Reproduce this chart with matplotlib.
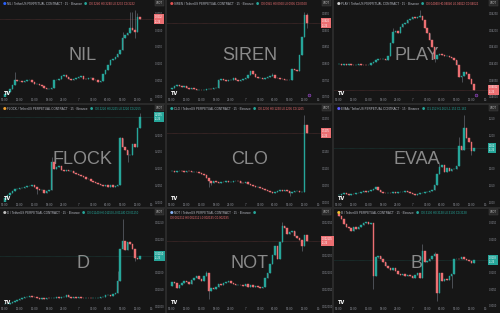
import matplotlib
matplotlib.use('Agg')
import matplotlib.pyplot as plt
import matplotlib.transforms as mtransforms
from matplotlib.ticker import MaxNLocator, FuncFormatter
import numpy as np

W, H = 500, 313

nil_close = [0.3010, 0.3015, 0.3025, 0.3035, 0.3050, 0.3047, 0.3048, 0.3045, 0.3047, 0.3050,
             0.3052, 0.3045, 0.3040, 0.3040, 0.3035, 0.3032, 0.3028, 0.3025, 0.3025, 0.3028,
             0.3050, 0.3052, 0.3055, 0.3062, 0.3065, 0.3060, 0.3055, 0.3052, 0.3055, 0.3058,
             0.3060, 0.3062, 0.3055, 0.3053, 0.3057, 0.3058, 0.3052, 0.3050, 0.3045, 0.3048,
             0.3068, 0.3080, 0.3095, 0.3110, 0.3115, 0.3120, 0.3130, 0.3140, 0.3175, 0.3185,
             0.3190, 0.3205, 0.3200, 0.3195, 0.3240, 0.3232]
nil_open0 = 0.3000
nil_high = {4: 0.3075, 48: 0.3195, 51: 0.3255, 52: 0.3255, 53: 0.3260, 54: 0.3250}
nil_low = {53: 0.3175}

siren_close = [0.0728, 0.0732, 0.0735, 0.0732, 0.0730, 0.0732, 0.0728, 0.0725, 0.0728, 0.0725,
               0.0722, 0.0722, 0.0720, 0.0722, 0.0724, 0.0725, 0.0724, 0.0727, 0.0728, 0.0752,
               0.0753, 0.0750, 0.0748, 0.0750, 0.0752, 0.0758, 0.0750, 0.0748, 0.0752, 0.0755,
               0.0758, 0.0765, 0.0778, 0.0768, 0.0760, 0.0757, 0.0758, 0.0755, 0.0757, 0.0760,
               0.0762, 0.0765, 0.0758, 0.0757, 0.0755, 0.0753, 0.0752, 0.0750, 0.0752, 0.0785,
               0.0780, 0.0778, 0.0825, 0.0880, 0.0945, 0.0920]
siren_open0 = 0.0725
siren_high = {41: 0.0772, 54: 0.0955, 55: 0.0950}
siren_low = {55: 0.0905}

play_close = [0.04098, 0.04097, 0.04098, 0.04097, 0.04098, 0.04097, 0.04096, 0.04097, 0.04098, 0.04097,
              0.04096, 0.04095, 0.04097, 0.04102, 0.04105, 0.04110, 0.04114, 0.04113, 0.04115, 0.04112,
              0.04122, 0.04160, 0.04195, 0.04198, 0.04190, 0.04210, 0.04218, 0.04222, 0.04230, 0.04233,
              0.04238, 0.04235, 0.04240, 0.04242, 0.04230, 0.04205, 0.04190, 0.04170, 0.04150, 0.04115,
              0.04125, 0.04128, 0.04125, 0.04122, 0.04123, 0.04120, 0.04118, 0.04112, 0.04095, 0.04060,
              0.04062, 0.04075, 0.04068, 0.04055, 0.04040, 0.04022]
play_open0 = 0.04098
play_high = {22: 0.04205, 33: 0.04260}
play_low = {39: 0.04105, 50: 0.04045}

flock_close = [0.2012, 0.2020, 0.2028, 0.2032, 0.2038, 0.2040, 0.2041, 0.2042, 0.2044, 0.2047,
               0.2048, 0.2050, 0.2046, 0.2040, 0.2035, 0.2037, 0.2028, 0.2032, 0.2035, 0.2120,
               0.2100, 0.2105, 0.2108, 0.2097, 0.2094, 0.2095, 0.2092, 0.2093, 0.2088, 0.2085,
               0.2082, 0.2078, 0.2075, 0.2070, 0.2068, 0.2064, 0.2060, 0.2057, 0.2054, 0.2052,
               0.2048, 0.2052, 0.2046, 0.2050, 0.2045, 0.2048, 0.2052, 0.2190, 0.2165, 0.2155,
               0.2140, 0.2142, 0.2172, 0.2165, 0.2220, 0.2255]
flock_open0 = 0.2000
flock_high = {19: 0.2135, 47: 0.2195, 55: 0.2265}
flock_low = {13: 0.2025, 50: 0.2120}

clo_close = [0.1092, 0.1090, 0.1093, 0.1094, 0.1092, 0.1091, 0.1093, 0.1092, 0.1090, 0.1091,
             0.1089, 0.1087, 0.1085, 0.1080, 0.1072, 0.1062, 0.1058, 0.1062, 0.1060, 0.1058,
             0.1061, 0.1060, 0.1062, 0.1060, 0.1061, 0.1063, 0.1064, 0.1062, 0.1058, 0.1056,
             0.1059, 0.1054, 0.1050, 0.1048, 0.1045, 0.1046, 0.1042, 0.1038, 0.1035, 0.1032,
             0.1030, 0.1028, 0.1030, 0.1032, 0.1035, 0.1034, 0.1036, 0.1033, 0.1028, 0.1030,
             0.1032, 0.1034, 0.1030, 0.1031, 0.1230, 0.1205]
clo_open0 = 0.1092
clo_high = {54: 0.1260}
clo_low = {15: 0.1045, 16: 0.1050, 48: 0.1018}

evaa_close = [1.022, 1.024, 1.026, 1.024, 1.022, 1.025, 1.024, 1.027, 1.028, 1.030,
              1.032, 1.030, 1.034, 1.037, 1.040, 1.046, 1.035, 1.030, 1.028, 1.027,
              1.028, 1.027, 1.029, 1.028, 1.029, 1.030, 1.031, 1.032, 1.031, 1.028,
              1.024, 1.022, 1.024, 1.026, 1.028, 1.029, 1.030, 1.032, 1.035, 1.052,
              1.085, 1.105, 1.112, 1.090, 1.102, 1.093, 1.098, 1.100, 1.107, 1.168,
              1.155, 1.220, 1.190, 1.180, 1.152, 1.162]
evaa_open0 = 1.020
evaa_high = {41: 1.120, 49: 1.195, 51: 1.260}
evaa_low = {54: 1.140}

d_close = [0.01006, 0.01007, 0.01009, 0.01012, 0.01015, 0.01018, 0.01022, 0.01025, 0.01026, 0.01028,
           0.01031, 0.01028, 0.01026, 0.01024, 0.01022, 0.01023, 0.01022, 0.01024, 0.01023, 0.01024,
           0.01025, 0.01026, 0.01025, 0.01026, 0.01028, 0.01032, 0.01027, 0.01025, 0.01026, 0.01025,
           0.01026, 0.01025, 0.01024, 0.01025, 0.01024, 0.01023, 0.01024, 0.01024, 0.01025, 0.01028,
           0.01028, 0.01032, 0.01034, 0.01030, 0.01036, 0.01040, 0.01075, 0.01170, 0.01195, 0.01168,
           0.01190, 0.01185, 0.01170, 0.01145, 0.01140, 0.01150]
d_open0 = 0.01005
d_high = {46: 0.01105, 48: 0.01260}
d_low = {53: 0.01135}

not_close = [0.002072, 0.002068, 0.002055, 0.002062, 0.002070, 0.002075, 0.002072, 0.002065, 0.002078, 0.002085,
             0.002090, 0.002080, 0.002075, 0.002090, 0.002100, 0.002045, 0.002055, 0.002052, 0.002058, 0.002065,
             0.002062, 0.002068, 0.002072, 0.002075, 0.002068, 0.002065, 0.002062, 0.002064, 0.002062, 0.002060,
             0.002065, 0.002058, 0.002062, 0.002056, 0.002060, 0.002058, 0.002055, 0.002057, 0.002085, 0.002100,
             0.002125, 0.002152, 0.002180, 0.002140, 0.002190, 0.002240, 0.002232, 0.002215, 0.002220, 0.002225,
             0.002210, 0.002202, 0.002198, 0.002180, 0.002212, 0.002195]
not_open0 = 0.002060
not_high = {14: 0.002105, 45: 0.002252}
not_low = {15: 0.002022, 53: 0.002165}

b_close = [0.3268, 0.3260, 0.3245, 0.3235, 0.3232, 0.3225, 0.3235, 0.3230, 0.3235, 0.3242,
           0.3248, 0.3250, 0.3245, 0.3248, 0.3090, 0.3145, 0.3150, 0.3140, 0.3132, 0.3120,
           0.3115, 0.3108, 0.3115, 0.3105, 0.3095, 0.3092, 0.3095, 0.3090, 0.3092, 0.3090,
           0.3085, 0.3092, 0.3098, 0.3085, 0.3165, 0.3132, 0.3135, 0.3140, 0.3150, 0.3155,
           0.3040, 0.3100, 0.3075, 0.3080, 0.3078, 0.3090, 0.3095, 0.3140, 0.3142, 0.3140,
           0.3145, 0.3142, 0.3138, 0.3135, 0.3130, 0.3138]
b_open0 = 0.3275
b_high = {0: 0.3285, 34: 0.3185, 39: 0.3162}
b_low = {14: 0.3050, 40: 0.3015, 46: 0.3055}

time_labels = ['09:00', '12:00', '15:00', '18:00', '21:00', '7', '03:00', '06:00', '09:00', '12:00', '15:']
time_pos = [0, 6, 12, 18, 24, 30, 36, 42, 48, 54, 60]

# name, data, axis bottom, axis span, decimals, icon colour
panels = [
    ('NIL', nil_close, nil_open0, nil_high, nil_low, 0.3000, 0.0290, 4, '#2962ff'),
    ('SIREN', siren_close, siren_open0, siren_high, siren_low, 0.0700, 0.0290, 4, '#e05252'),
    ('PLAY', play_close, play_open0, play_high, play_low, 0.04000, 0.00290, 5, '#d0d0d0'),
    ('FLOCK', flock_close, flock_open0, flock_high, flock_low, 0.2000, 0.0290, 4, '#f0a030'),
    ('CLO', clo_close, clo_open0, clo_high, clo_low, 0.1000, 0.0290, 4, '#26a69a'),
    ('EVAA', evaa_close, evaa_open0, evaa_high, evaa_low, 1.000, 0.290, 3, '#5b5bff'),
    ('D', d_close, d_open0, d_high, d_low, 0.01000, 0.00290, 5, '#c0c0c0'),
    ('NOT', not_close, not_open0, not_high, not_low, 0.002000, 0.000290, 6, '#8ab4f8'),
    ('B', b_close, b_open0, b_high, b_low, 0.3000, 0.0290, 4, '#f0c030'),
]

GREEN = '#26a69a'
RED = '#ec6f72'
WICK = '#55585f'
BG = '#161616'
TXT = '#8d9099'
SMALL = 'Liberation Sans'

cols = [(0, 165), (167, 332), (334, 500)]
rows = [(0, 103), (105, 207), (209, 313)]
PLOT_W, PLOT_H = 154, 97


def price_fmt(dec, last, base, span):
    # the last-price tag and the USDT box sit on the scale, so skip labels under them
    def f(v, pos):
        if abs(v - last) < span * 6 / PLOT_H:
            return ''
        if v > base + span * (1 - 7 / PLOT_H):
            return ''
        return f'{v:.{dec}f}'
    return f


fig = plt.figure(figsize=(W / 100, H / 100), dpi=100, facecolor='#2a2a2a')

for k, (name, closes, open0, highs, lows, base, span, dec, icon) in enumerate(panels):
    r, c = divmod(k, 3)
    x0, x1 = cols[c]
    y0, y1 = rows[r]

    bg = fig.add_axes([x0 / W, 1 - y1 / H, (x1 - x0) / W, (y1 - y0) / H])
    bg.set_facecolor(BG)
    bg.set_xticks([])
    bg.set_yticks([])
    for s in bg.spines.values():
        s.set_visible(False)

    ax = fig.add_axes([x0 / W, 1 - (y0 + PLOT_H) / H, PLOT_W / W, PLOT_H / H])
    ax.patch.set_alpha(0)
    for s in ax.spines.values():
        s.set_visible(False)

    closes = np.array(closes)
    opens = np.r_[open0, closes[:-1]]
    x = np.arange(len(closes))
    up = closes >= opens
    colors = [GREEN if u else RED for u in up]
    hi = [highs.get(i, max(o, cl)) for i, (o, cl) in enumerate(zip(opens, closes))]
    lo = [lows.get(i, min(o, cl)) for i, (o, cl) in enumerate(zip(opens, closes))]

    ax.vlines(x, lo, hi, color=WICK, lw=0.6, zorder=2)
    ax.bar(x, closes - opens, bottom=opens, width=0.62, color=colors,
           edgecolor=colors, linewidth=0.3, zorder=3)

    ax.set_xlim(-2.04, 60.8)
    ax.set_ylim(base, base + span)
    last = closes[-1]
    lcol = GREEN if up[-1] else RED

    # watermark
    ax.text(82.5 / PLOT_W, 1 - 55 / PLOT_H, name, transform=ax.transAxes,
            fontsize=13, color='#8a8a8a', family='Liberation Sans',
            ha='center', va='center', zorder=1)

    # axes ticks
    ax.set_xticks(time_pos)
    ax.set_xticklabels(time_labels, family=SMALL)
    ax.tick_params(axis='x', length=0, pad=1.0, labelsize=2.2, labelcolor=TXT)
    ax.yaxis.tick_right()
    ax.yaxis.set_major_locator(MaxNLocator(nbins=11, steps=[1, 2, 2.5, 5, 10]))
    ax.yaxis.set_major_formatter(FuncFormatter(price_fmt(dec, last, base, span)))
    ax.tick_params(axis='y', length=0, pad=0.8, labelsize=1.9, labelcolor=TXT)
    for lab in ax.get_yticklabels():
        lab.set_family(SMALL)

    # last price line and label
    ax.axhline(last, color=lcol, lw=0.4, ls=(0, (1, 1)), alpha=0.45, zorder=2)
    trans = mtransforms.blended_transform_factory(ax.transAxes, ax.transData)
    ax.text(1.008, last, f'{last:.{dec}f}\n11:26', transform=trans, fontsize=1.8,
            family=SMALL, color='white', ha='left', va='center', linespacing=1.1,
            zorder=10, clip_on=False,
            bbox=dict(boxstyle='square,pad=0.35', fc=lcol, ec='none'))
    ax.text(1.012, 0.965, 'USDT', transform=ax.transAxes, fontsize=1.8, family=SMALL,
            color='#d0d0d0', ha='left', va='center', clip_on=False,
            bbox=dict(boxstyle='square,pad=0.4', fc='#2a2a2a', ec='#444444', lw=0.3))

    # header line
    ax.text(2.5 / PLOT_W, 1 - 3.8 / PLOT_H, '\u25cf', transform=ax.transAxes,
            fontsize=3, color=icon, ha='left', va='center')
    title = ax.text(7 / PLOT_W, 1 - 3.8 / PLOT_H,
                    f'{name} / TetherUS PERPETUAL CONTRACT \u00b7 15 \u00b7 Binance',
                    transform=ax.transAxes, fontsize=2.2, family=SMALL,
                    color='#b8bbc4', ha='left', va='center')
    dot = ax.annotate('\u25cf', xy=(1, 0.5), xycoords=title, xytext=(1.5, 0),
                      textcoords='offset points', fontsize=2.6, color=GREEN,
                      ha='left', va='center')
    ohlc = (f'O{opens[-1]:.{dec}f} H{hi[-1]:.{dec}f} '
            f'L{lo[-1]:.{dec}f} C{last:.{dec}f}')
    if name == 'NOT':
        ax.text(2.5 / PLOT_W, 1 - 8.5 / PLOT_H, ohlc, transform=ax.transAxes,
                fontsize=2.1, family=SMALL, color=lcol, ha='left', va='center')
    else:
        ax.annotate(ohlc, xy=(1, 0.5), xycoords=dot, xytext=(1.5, 0),
                    textcoords='offset points', fontsize=2.1, family=SMALL,
                    color=lcol, ha='left', va='center')

    # tradingview logo
    ax.text(4 / PLOT_W, 3.5 / PLOT_H, 'TV', transform=ax.transAxes, fontsize=3.6,
            color='white', fontweight='bold', ha='left', va='center', zorder=6)

    if name in ('SIREN', 'PLAY'):
        ax.scatter([141.5 / PLOT_W], [2.0 / PLOT_H], transform=ax.transAxes, s=4,
                   facecolor='#3a1f4a', edgecolor='#9c4dcc', linewidth=0.4, zorder=6,
                   clip_on=False)

fig.savefig('out.png', dpi=100, facecolor=fig.get_facecolor())
